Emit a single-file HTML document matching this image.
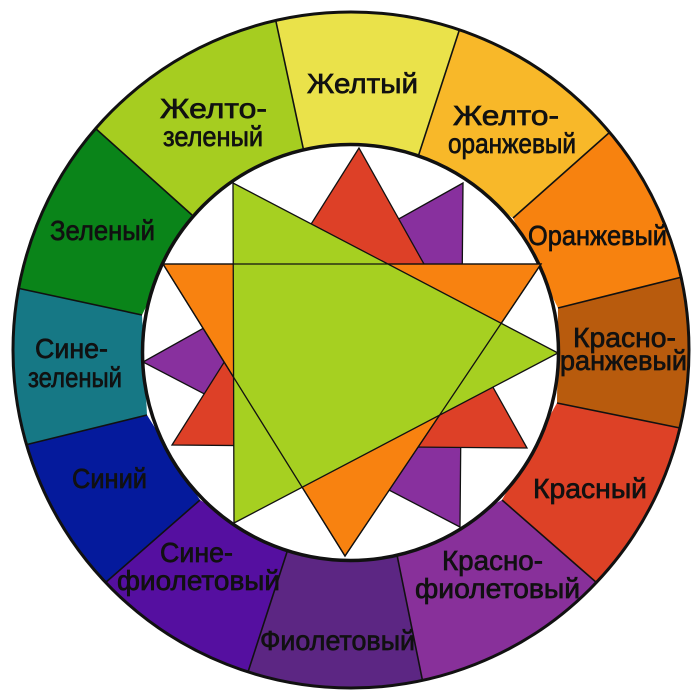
<!DOCTYPE html>
<html><head><meta charset="utf-8"><style>
html,body{margin:0;padding:0;background:#fff;width:700px;height:700px;overflow:hidden}
svg{display:block;overflow:hidden}
text{font-family:"Liberation Sans","DejaVu Sans",sans-serif;font-size:28px;fill:#111;stroke:#111;stroke-width:0.7}
</style></head><body>
<svg width="700" height="700" viewBox="0 0 700 700" xmlns="http://www.w3.org/2000/svg">
<defs><clipPath id="oc"><circle cx="351" cy="350" r="339"/></clipPath></defs>
<g clip-path="url(#oc)">
<path fill="#EAE24A" d="M304,152 L275.1,17.5 A341,341 0 0 1 460.3,27 L418,157 Z"/>
<path fill="#F8B829" d="M418,157 L460.3,27 A341,341 0 0 1 611.9,130.4 L513,218 Z"/>
<path fill="#F7820F" d="M513,218 L611.9,130.4 A341,341 0 0 1 684,276.6 L558,308 Z"/>
<path fill="#B85B0D" d="M558,308 L684,276.6 A341,341 0 0 1 682.8,428.7 L557,403 Z"/>
<path fill="#DD4126" d="M557,403 L682.8,428.7 A341,341 0 0 1 598.6,584.5 L502,500 Z"/>
<path fill="#88309A" d="M502,500 L598.6,584.5 A341,341 0 0 1 423.1,683.3 L397,555 Z"/>
<path fill="#5C2683" d="M397,555 L423.1,683.3 A341,341 0 0 1 247,675 L287,552 Z"/>
<path fill="#550FA0" d="M287,552 L247,675 A341,341 0 0 1 103.4,584.5 L200,500 Z"/>
<path fill="#051A9C" d="M200,500 L103.4,584.5 A341,341 0 0 1 23.7,445.4 L147,415 Z"/>
<path fill="#167885" d="M147,415 L23.7,445.4 A341,341 0 0 1 15.6,287.7 L142,315 Z"/>
<path fill="#0A8419" d="M142,315 L15.6,287.7 A341,341 0 0 1 93.3,126.6 L192,215 Z"/>
<path fill="#A6CD20" d="M192,215 L93.3,126.6 A341,341 0 0 1 275.1,17.5 L304,152 Z"/>
<g stroke="#111" stroke-width="1.6">
<line x1="304" y1="152" x2="275" y2="17"/>
<line x1="418" y1="157" x2="460" y2="28"/>
<line x1="513" y1="218" x2="610" y2="132"/>
<line x1="558" y1="308" x2="682" y2="277"/>
<line x1="557" y1="403" x2="680" y2="428"/>
<line x1="502" y1="500" x2="597" y2="583"/>
<line x1="397" y1="555" x2="423" y2="683"/>
<line x1="287" y1="552" x2="247" y2="675"/>
<line x1="200" y1="500" x2="105" y2="583"/>
<line x1="147" y1="415" x2="25" y2="445"/>
<line x1="142" y1="315" x2="17" y2="288"/>
<line x1="192" y1="215" x2="95" y2="128"/>
</g>
<text x="307" y="93" textLength="111" lengthAdjust="spacingAndGlyphs">Желтый</text>
<text x="160" y="118" textLength="107" lengthAdjust="spacingAndGlyphs">Желто-</text>
<text x="163" y="146" textLength="100" lengthAdjust="spacingAndGlyphs">зеленый</text>
<text x="50" y="240" textLength="105" lengthAdjust="spacingAndGlyphs">Зеленый</text>
<text x="35" y="358" textLength="73" lengthAdjust="spacingAndGlyphs">Сине-</text>
<text x="28" y="387" textLength="94" lengthAdjust="spacingAndGlyphs">зеленый</text>
<text x="72" y="488" textLength="75" lengthAdjust="spacingAndGlyphs">Синий</text>
<text x="160" y="562" textLength="73" lengthAdjust="spacingAndGlyphs">Сине-</text>
<text x="117" y="590" textLength="163" lengthAdjust="spacingAndGlyphs">фиолетовый</text>
<text x="260" y="650" textLength="155" lengthAdjust="spacingAndGlyphs">Фиолетовый</text>
<text x="442" y="570" textLength="101" lengthAdjust="spacingAndGlyphs">Красно-</text>
<text x="415" y="598" textLength="165" lengthAdjust="spacingAndGlyphs">фиолетовый</text>
<text x="533" y="498" textLength="114" lengthAdjust="spacingAndGlyphs">Красный</text>
<text x="573" y="347" textLength="103" lengthAdjust="spacingAndGlyphs">Красно-</text>
<text x="545" y="370" textLength="142" lengthAdjust="spacingAndGlyphs">оранжевый</text>
<text x="528" y="245" textLength="139" lengthAdjust="spacingAndGlyphs">Оранжевый</text>
<text x="453" y="125" textLength="106" lengthAdjust="spacingAndGlyphs">Желто-</text>
<text x="448" y="153" textLength="128" lengthAdjust="spacingAndGlyphs">оранжевый</text>
</g>
<circle cx="351" cy="350" r="338" fill="none" stroke="#111" stroke-width="3"/>
<circle cx="350.5" cy="352.5" r="208" fill="#fff" stroke="#111" stroke-width="3.5"/>
<polygon points="463,183 143,362 460,527" fill="#88309E" stroke="#111" stroke-width="1.3"/>
<polygon points="359,148 172,445 527,448" fill="#DD4027" stroke="#111" stroke-width="1.3"/>
<polygon points="163,264 541,264 345,556" fill="#F88210" stroke="#111" stroke-width="1.3"/>
<polygon points="233,183 558,353 234,523" fill="#A6D021" stroke="#111" stroke-width="1.3"/>
<polygon points="163,264 541,264 345,556" fill="none" stroke="#111" stroke-width="1.3"/>
</svg>
</body></html>
